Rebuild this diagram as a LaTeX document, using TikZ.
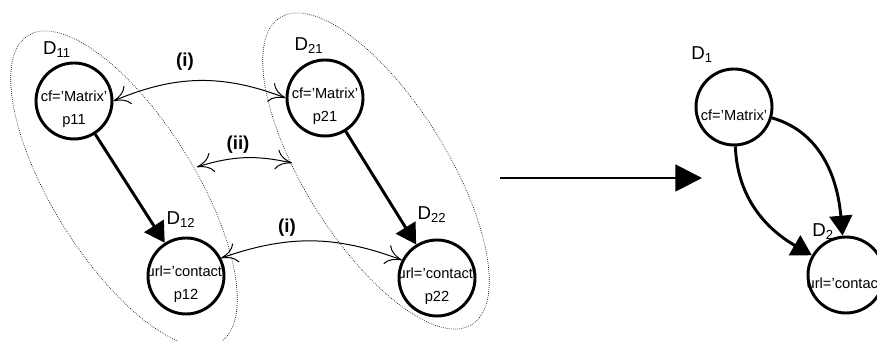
\documentclass[tikz,border=0pt]{standalone}
\usepackage{fontspec}
\setmainfont{Liberation Sans}
\usetikzlibrary{arrows.meta}

\begin{document}
\begin{tikzpicture}[x=0.75pt, y=0.75pt,
    doc/.style={circle, draw, line width=2.2pt, minimum size=57pt, inner sep=0pt},
    txt/.style={align=center, font=\fontsize{11pt}{17pt}\selectfont, yshift=-6pt},
    dname/.style={font=\fontsize{14pt}{16pt}\selectfont},
    group/.style={densely dotted, line width=0.5pt},
    link/.style={line width=0.75pt,
      {Computer Modern Rightarrow[length=12pt, width=15pt]}-{Computer Modern Rightarrow[length=12pt, width=15pt]}},
    edge/.style={line width=2.2pt, -{Triangle[length=15pt, width=17pt]}},
    tag/.style={font=\fontsize{14pt}{16pt}\selectfont\bfseries}]
  \useasboundingbox (0,0) rectangle (877,341);

  % Groups of documents
  \draw [group, rotate around={-58:(124,152)}] (124,152) ellipse [x radius=181, y radius=71];
  \draw [group, rotate around={-58:(376,170)}] (376,170) ellipse [x radius=181, y radius=71];

  % Documents before the merge
  \node [doc, label={[txt]center:{cf='Matrix'\\p11}}] (d11) at (74,240) {};
  \node [doc, label={[txt]center:{url='contact'\\p12}}] (d12) at (186,65) {};
  \node [doc, label={[txt]center:{cf='Matrix'\\p21}}] (d21) at (325,243) {};
  \node [doc, label={[txt]center:{url='contact'\\p22}}] (d22) at (437,63) {};

  \node [dname] (n11) at (57,291) {D\textsubscript{11}};
  \node [dname] (n12) at (181,121) {D\textsubscript{12}};
  \node [dname] (n21) at (309,295) {D\textsubscript{21}};
  \node [dname] (n22) at (432,126) {D\textsubscript{22}};

  \draw [edge] (d11) -- (d12);
  \draw [edge] (d21) -- (d22);

  % Correspondences
  \coordinate (g1) at (197,174);
  \coordinate (g2) at (292,178);
  \draw [link] (d11.east) to [bend left=22] (d21.west);
  \draw [link] (g1) to [bend left=15] (g2);
  \draw [link] (d12.27) to [bend left=20] (d22.153);
  \node [tag] (i1) at (185,279) {(i)};
  \node [tag] (i2) at (238,196) {(ii)};
  \node [tag] (i3) at (287,113) {(i)};

  % Merge
  \coordinate (src) at (500,163);
  \coordinate (dst) at (702,163);
  \draw [line width=2.2pt, -{Triangle[length=20pt, width=20pt]}] (src) -- (dst);

  % Documents after the merge
  \node [doc, label={[txt]center:{cf='Matrix'}}] (d1) at (734,234) {};
  \node [doc, label={[txt]center:{url='contact'}}] (d2) at (846,66) {};
  \node [dname] (n1) at (702,286) {D\textsubscript{1}};
  \node [dname] (n2) at (823,109) {D\textsubscript{2}};

  \draw [edge] (d1) to [out=-88, in=150] (d2);
  \draw [edge] (d1) to [out=-16, in=95] (d2);

\end{tikzpicture}
\end{document}
